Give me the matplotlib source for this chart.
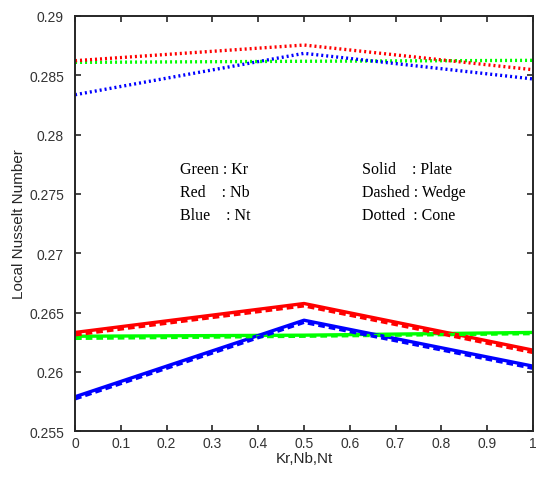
import matplotlib.pyplot as plt

# parameter values (Kr, Nb, Nt share the same axis)
param = [0.0, 0.5, 1.0]

# Local Nusselt number, plate (solid)
plate_kr = [0.26300, 0.26309, 0.26332]
plate_nb = [0.26332, 0.26576, 0.26183]
plate_nt = [0.25790, 0.26435, 0.26048]

# wedge (dashed)
wedge_kr = [0.26282, 0.26300, 0.26322]
wedge_nb = [0.26312, 0.26556, 0.26163]
wedge_nt = [0.25772, 0.26417, 0.26030]

# cone (dotted)
cone_kr = [0.28609, 0.28618, 0.28626]
cone_nb = [0.28623, 0.28755, 0.28547]
cone_nt = [0.28336, 0.28685, 0.28469]

xticks = [0, 0.1, 0.2, 0.3, 0.4, 0.5, 0.6, 0.7, 0.8, 0.9, 1]
yticks = [0.255, 0.26, 0.265, 0.27, 0.275, 0.28, 0.285, 0.29]

plt.rcParams["font.family"] = ["Liberation Sans", "DejaVu Sans"]

fig = plt.figure(figsize=(5.4, 4.85), dpi=100)
ax = fig.add_axes([0.139, 0.109, 0.848, 0.856])

green, red, blue = "#00ff00", "#ff0000", "#0000ff"
lw = 2.4
for ys, c in [(plate_kr, green), (plate_nb, red), (plate_nt, blue)]:
    ax.plot(param, ys, color=c, linewidth=lw, linestyle="-")
for ys, c in [(wedge_kr, green), (wedge_nb, red), (wedge_nt, blue)]:
    ax.plot(param, ys, color=c, linewidth=lw, linestyle=(0, (2.0, 1.2)))
for ys, c in [(cone_kr, green), (cone_nb, red), (cone_nt, blue)]:
    ax.plot(param, ys, color=c, linewidth=lw, linestyle=(0, (0.6, 0.9)))

ax.set_xlim(0, 1)
ax.set_ylim(0.255, 0.29)
ax.set_xticks(xticks)
ax.set_xticklabels([f"{t:g}" for t in xticks])
ax.set_yticks(yticks)
ax.set_yticklabels([f"{t:g}" for t in yticks])
ax.tick_params(direction="in", length=4, width=1.2, labelsize=10,
               top=True, right=True, colors="#262626", labelcolor="#333333")
ax.tick_params(axis="y", pad=8)
for s in ax.spines.values():
    s.set_linewidth(1.4)
    s.set_color("#262626")

ax.set_xlabel("Kr,Nb,Nt", fontsize=11, color="#262626", labelpad=1)
ax.set_ylabel("Local Nusselt Number", fontsize=11, color="#262626", labelpad=2)

serif = dict(family=["Liberation Serif", "DejaVu Serif"], fontsize=11.5,
             va="center", color="black")
ax.text(0.229, 0.27706, "Green : Kr", **serif)
ax.text(0.229, 0.27516, "Red    : Nb", **serif)
ax.text(0.229, 0.27322, "Blue    : Nt", **serif)
ax.text(0.627, 0.27706, "Solid    : Plate", **serif)
ax.text(0.627, 0.27516, "Dashed : Wedge", **serif)
ax.text(0.627, 0.27322, "Dotted  : Cone", **serif)

fig.savefig("out.png", dpi=100)
